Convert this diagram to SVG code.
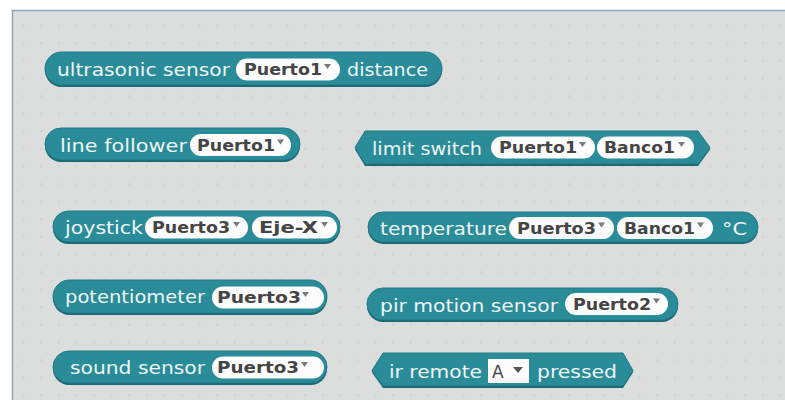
<svg xmlns="http://www.w3.org/2000/svg" width="785" height="400" viewBox="0 0 785 400">
  <defs>
    <pattern id="dots" x="4" y="6" width="17.6" height="17.6" patternUnits="userSpaceOnUse">
      <circle cx="2" cy="2" r="0.9" fill="#c6c9ca"/>
    </pattern>
    <style>
      .blk { fill: #2a8b99; stroke: #227987; stroke-width: 1; }
      .shd { fill: #1b6773; }
      .lbl { font-family: "DejaVu Sans", Verdana, sans-serif; font-size: 18px; fill: #eef6f6; }
      .fld { fill: #fcfcfc; }
      .ftx { font-family: "DejaVu Sans", Verdana, sans-serif; font-size: 15px; font-weight: bold; fill: #454545; }
      .arr { fill: #7a7a7a; }
    </style>
  </defs>

  <!-- workspace -->
  <rect x="0" y="0" width="785" height="400" fill="#ffffff"/>
  <rect x="12" y="10" width="780" height="400" fill="#dcdede"/>
  <rect x="12" y="10" width="780" height="400" fill="url(#dots)"/>
  <path d="M12.5 400 V10.5 H785" fill="none" stroke="#8ea4bc" stroke-width="1.5"/>

  <!-- ultrasonic sensor -->
  <g id="ultrasonic">
    <rect class="shd" x="45" y="54" width="397" height="33" rx="16.5"/>
    <rect class="blk" x="45" y="52" width="397" height="33" rx="16.5"/>
    <text class="lbl" x="57" y="76" textLength="173" lengthAdjust="spacingAndGlyphs">ultrasonic sensor</text>
    <rect class="fld" x="236" y="58.5" width="104" height="22" rx="11"/>
    <text class="ftx" x="244" y="75" textLength="78" lengthAdjust="spacingAndGlyphs">Puerto1</text>
    <path class="arr" d="M324 64 h7 l-3.5 5 z"/>
    <text class="lbl" x="347" y="76" textLength="81" lengthAdjust="spacingAndGlyphs">distance</text>
  </g>

  <!-- line follower -->
  <g id="line-follower">
    <rect class="shd" x="45" y="130" width="255" height="32" rx="16"/>
    <rect class="blk" x="45" y="128" width="255" height="32" rx="16"/>
    <text class="lbl" x="60" y="152" textLength="127" lengthAdjust="spacingAndGlyphs">line follower</text>
    <rect class="fld" x="190" y="134" width="101" height="22" rx="11"/>
    <text class="ftx" x="197" y="150.5" textLength="78" lengthAdjust="spacingAndGlyphs">Puerto1</text>
    <path class="arr" d="M277 139.5 h7 l-3.5 5 z"/>
  </g>

  <!-- joystick -->
  <g id="joystick">
    <rect class="shd" x="53" y="213" width="287" height="31" rx="15.5"/>
    <rect class="blk" x="53" y="211" width="287" height="31" rx="15.5"/>
    <text class="lbl" x="65" y="234" textLength="78" lengthAdjust="spacingAndGlyphs">joystick</text>
    <rect class="fld" x="145" y="216.5" width="103" height="22" rx="11"/>
    <text class="ftx" x="152" y="233" textLength="78" lengthAdjust="spacingAndGlyphs">Puerto3</text>
    <path class="arr" d="M233 222 h7 l-3.5 5 z"/>
    <rect class="fld" x="252" y="216.5" width="85" height="22" rx="11"/>
    <text class="ftx" x="259" y="233" textLength="59" lengthAdjust="spacingAndGlyphs">Eje-X</text>
    <path class="arr" d="M321 222 h7 l-3.5 5 z"/>
  </g>

  <!-- limit switch -->
  <g id="limit-switch">
    <path class="shd" d="M355 149.5 L365 133 H698 L710 149.5 L698 166 H365 Z"/>
    <path class="blk" d="M355 147.5 L365 131 H698 L710 147.5 L698 164 H365 Z"/>
    <text class="lbl" x="372" y="155" textLength="110" lengthAdjust="spacingAndGlyphs">limit switch</text>
    <rect class="fld" x="491" y="136.5" width="104" height="22" rx="11"/>
    <text class="ftx" x="499" y="153" textLength="78" lengthAdjust="spacingAndGlyphs">Puerto1</text>
    <path class="arr" d="M579 142 h7 l-3.5 5 z"/>
    <rect class="fld" x="597" y="136.5" width="97" height="22" rx="11"/>
    <text class="ftx" x="604" y="153" textLength="71" lengthAdjust="spacingAndGlyphs">Banco1</text>
    <path class="arr" d="M678 142 h7 l-3.5 5 z"/>
  </g>

  <!-- temperature -->
  <g id="temperature">
    <rect class="shd" x="368" y="214" width="390" height="30" rx="15"/>
    <rect class="blk" x="368" y="212" width="390" height="30" rx="15"/>
    <text class="lbl" x="380" y="235" textLength="127" lengthAdjust="spacingAndGlyphs">temperature</text>
    <rect class="fld" x="509" y="217" width="105" height="22" rx="11"/>
    <text class="ftx" x="517" y="233.5" textLength="79" lengthAdjust="spacingAndGlyphs">Puerto3</text>
    <path class="arr" d="M598 222.5 h7 l-3.5 5 z"/>
    <rect class="fld" x="617" y="217" width="96" height="22" rx="11"/>
    <text class="ftx" x="624" y="233.5" textLength="71" lengthAdjust="spacingAndGlyphs">Banco1</text>
    <path class="arr" d="M697 222.5 h7 l-3.5 5 z"/>
    <text class="lbl" x="722" y="235" textLength="25" lengthAdjust="spacingAndGlyphs">°C</text>
  </g>

  <!-- potentiometer -->
  <g id="potentiometer">
    <rect class="shd" x="53" y="282" width="274" height="33" rx="16.5"/>
    <rect class="blk" x="53" y="280" width="274" height="33" rx="16.5"/>
    <text class="lbl" x="65" y="303" textLength="140" lengthAdjust="spacingAndGlyphs">potentiometer</text>
    <rect class="fld" x="212" y="286.5" width="112" height="22" rx="11"/>
    <text class="ftx" x="217" y="303" textLength="84" lengthAdjust="spacingAndGlyphs">Puerto3</text>
    <path class="arr" d="M302 292 h7 l-3.5 5 z"/>
  </g>

  <!-- sound sensor -->
  <g id="sound-sensor">
    <rect class="shd" x="53" y="353" width="274" height="32" rx="16"/>
    <rect class="blk" x="53" y="351" width="274" height="32" rx="16"/>
    <text class="lbl" x="70" y="374" textLength="135" lengthAdjust="spacingAndGlyphs">sound sensor</text>
    <rect class="fld" x="212" y="356.5" width="112" height="22" rx="11"/>
    <text class="ftx" x="217" y="373" textLength="82" lengthAdjust="spacingAndGlyphs">Puerto3</text>
    <path class="arr" d="M301 362 h7 l-3.5 5 z"/>
  </g>

  <!-- pir motion sensor -->
  <g id="pir-motion">
    <rect class="shd" x="367" y="290" width="311" height="32" rx="16"/>
    <rect class="blk" x="367" y="288" width="311" height="32" rx="16"/>
    <text class="lbl" x="380" y="312" textLength="178" lengthAdjust="spacingAndGlyphs">pir motion sensor</text>
    <rect class="fld" x="565" y="293" width="103" height="22" rx="11"/>
    <text class="ftx" x="573" y="309.5" textLength="78" lengthAdjust="spacingAndGlyphs">Puerto2</text>
    <path class="arr" d="M653 298.5 h7 l-3.5 5 z"/>
  </g>

  <!-- ir remote -->
  <g id="ir-remote">
    <path class="shd" d="M372 372.5 L383 355 H623 L633 372.5 L623 388 H383 Z"/>
    <path class="blk" d="M372 370.5 L383 353 H623 L633 370.5 L623 386 H383 Z"/>
    <text class="lbl" x="389" y="378" textLength="93" lengthAdjust="spacingAndGlyphs">ir remote</text>
    <rect x="488" y="359" width="41" height="24" fill="#fcfcfc"/>
    <text x="492" y="378" font-family="DejaVu Sans, Verdana, sans-serif" font-size="17" fill="#444444">A</text>
    <path d="M513 367 h10 l-5 6 z" fill="#555555"/>
    <text class="lbl" x="537" y="378" textLength="80" lengthAdjust="spacingAndGlyphs">pressed</text>
  </g>
</svg>
